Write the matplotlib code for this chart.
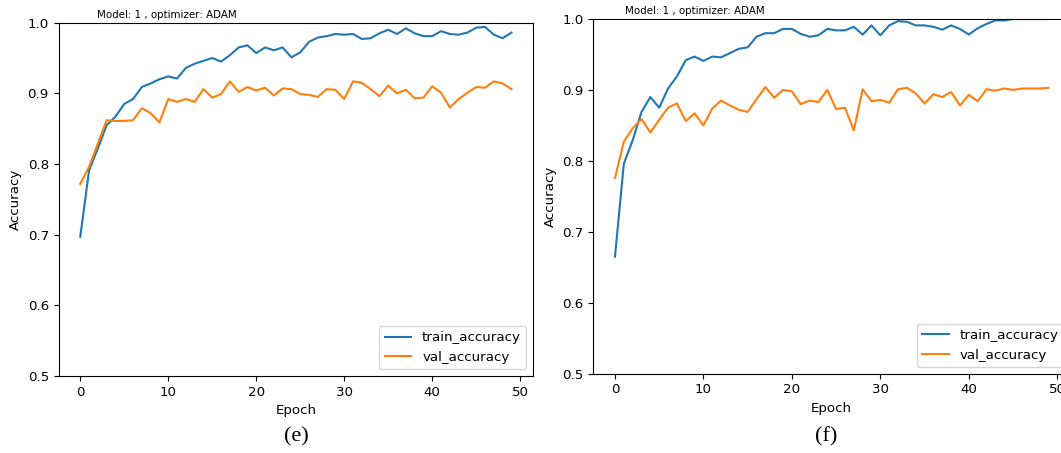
import matplotlib
matplotlib.use("Agg")
import matplotlib.pyplot as plt
import numpy as np

epochs = list(range(50))

train_e = [0.697, 0.791, 0.822, 0.855, 0.867, 0.885, 0.892, 0.909, 0.914, 0.920,
           0.924, 0.921, 0.936, 0.942, 0.946, 0.950, 0.945, 0.954, 0.965, 0.968,
           0.957, 0.965, 0.961, 0.965, 0.951, 0.958, 0.973, 0.979, 0.981, 0.984,
           0.983, 0.984, 0.977, 0.978, 0.985, 0.990, 0.984, 0.992, 0.985, 0.981,
           0.981, 0.988, 0.984, 0.983, 0.986, 0.993, 0.994, 0.983, 0.978, 0.986]
val_e = [0.772, 0.796, 0.829, 0.862, 0.861, 0.861, 0.862, 0.879, 0.872, 0.859,
         0.892, 0.888, 0.892, 0.888, 0.906, 0.894, 0.899, 0.917, 0.902, 0.909,
         0.904, 0.908, 0.897, 0.907, 0.906, 0.899, 0.898, 0.895, 0.906, 0.905,
         0.892, 0.917, 0.915, 0.906, 0.896, 0.911, 0.900, 0.905, 0.893, 0.894,
         0.910, 0.901, 0.880, 0.892, 0.901, 0.909, 0.908, 0.917, 0.914, 0.906]

train_f = [0.665, 0.796, 0.829, 0.869, 0.890, 0.875, 0.902, 0.919, 0.942, 0.947,
           0.941, 0.947, 0.946, 0.952, 0.958, 0.960, 0.975, 0.980, 0.980, 0.986,
           0.986, 0.979, 0.975, 0.977, 0.986, 0.984, 0.984, 0.989, 0.978, 0.991,
           0.977, 0.991, 0.997, 0.996, 0.991, 0.991, 0.989, 0.985, 0.991, 0.986,
           0.978, 0.987, 0.993, 0.998, 0.998, 1.000, 1.000, 1.000, 1.000, 1.000]
val_f = [0.776, 0.827, 0.846, 0.859, 0.840, 0.858, 0.875, 0.881, 0.856, 0.867,
         0.850, 0.874, 0.885, 0.878, 0.872, 0.869, 0.887, 0.904, 0.889, 0.900,
         0.898, 0.880, 0.885, 0.883, 0.900, 0.873, 0.875, 0.843, 0.901, 0.884,
         0.886, 0.882, 0.901, 0.903, 0.895, 0.881, 0.894, 0.890, 0.897, 0.878,
         0.893, 0.884, 0.901, 0.899, 0.902, 0.900, 0.902, 0.902, 0.902, 0.903]

title_text = "Model: 1 , optimizer: ADAM"
captions = ["(e)", "(f)"]
series_labels = ["train_accuracy", "val_accuracy"]

W, H = 1061, 453
fig = plt.figure(figsize=(W / 100, H / 100), dpi=100)

def fx(px):
    return px / W

def fy(py):
    return 1 - py / H

ax1 = fig.add_axes([fx(58.7), fy(376), fx(533 - 58.7), (376 - 22.7) / H])
ax2 = fig.add_axes([fx(593.3), fy(373.7), fx(1070.1 - 593.3), (373.7 - 19) / H])

fs = 9.6
for ax, tr, va in [(ax1, train_e, val_e), (ax2, train_f, val_f)]:
    ax.plot(epochs, tr, color="#1f77b4", lw=1.5, label=series_labels[0])
    ax.plot(epochs, va, color="#ff7f0e", lw=1.5, label=series_labels[1])
    ax.set_ylim(0.5, 1.0)
    ax.set_xticks([0, 10, 20, 30, 40, 50])
    ax.set_yticks([0.5, 0.6, 0.7, 0.8, 0.9, 1.0])
    ax.tick_params(labelsize=fs)
    ax.set_xlabel("Epoch", fontsize=fs)
    ax.set_ylabel("Accuracy", fontsize=fs)
    ax.legend(loc="lower right", fontsize=fs)

fig.text(fx(97.3), fy(14.5), title_text, fontsize=7.4, ha="left", va="center")
fig.text(fx(625), fy(10.5), title_text, fontsize=7.4, ha="left", va="center")

fig.text(fx(296), fy(437), captions[0], fontsize=16, family="Liberation Serif",
         ha="center", va="center")
fig.text(fx(826), fy(437), captions[1], fontsize=16, family="Liberation Serif",
         ha="center", va="center")

fig.savefig("out.png", dpi=100)
